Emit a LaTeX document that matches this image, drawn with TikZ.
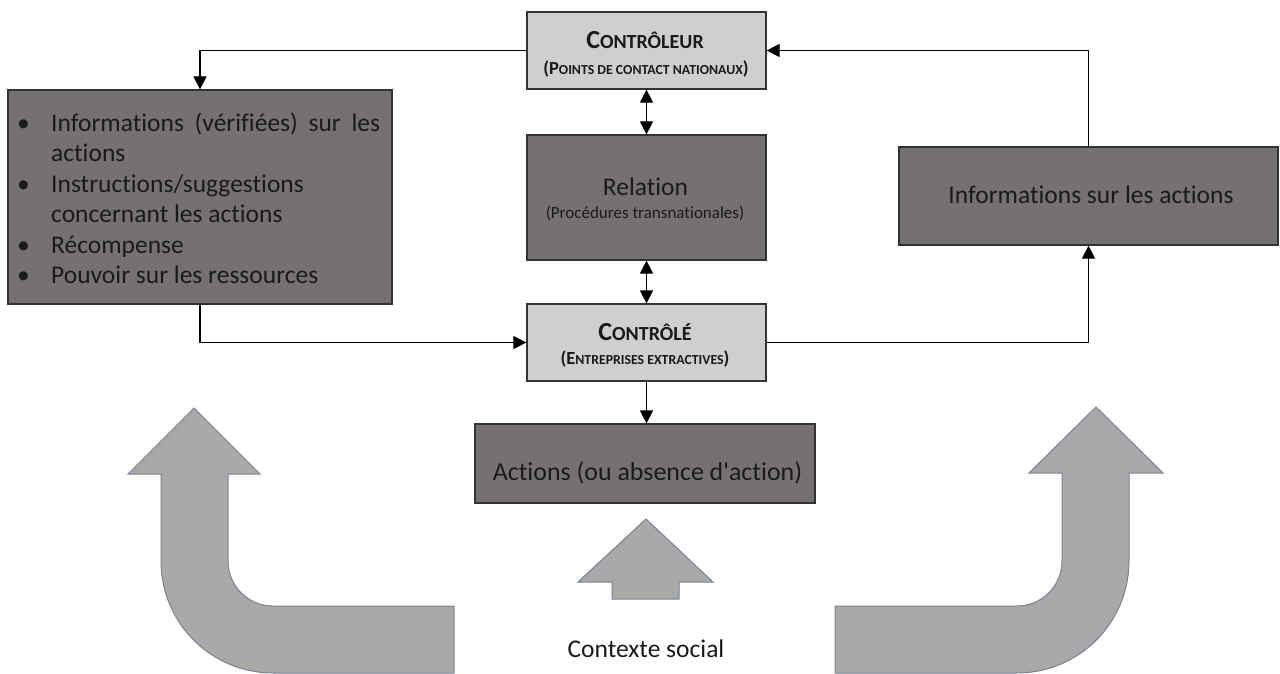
\documentclass[tikz,border=0pt]{standalone}
\usepackage{fontspec}
\setmainfont{Carlito}
\newfontfamily\calib{Carlito}[Ligatures=NoCommon]
\usetikzlibrary{arrows.meta}
\definecolor{lightbox}{HTML}{D0CECE}
\definecolor{darkbox}{HTML}{767171}
\definecolor{txt}{HTML}{1A1A1A}
\definecolor{bigfill}{HTML}{A9A9A9}
\definecolor{bigline}{HTML}{7A8290}
\newcommand\fsz[1]{\fontsize{#1}{#1}\selectfont}
\tikzset{
  lbox/.style={draw=black!80, line width=1.2pt, fill=lightbox, inner sep=0pt},
  dbox/.style={draw=black!80, line width=1.2pt, fill=darkbox, inner sep=0pt},
  lbl/.style={anchor=base, inner sep=0pt, text=txt},
  conn/.style={draw=black, line width=1.1pt, -{Triangle[width=13pt,length=13pt]}},
  dconn/.style={draw=black, line width=1.1pt, {Triangle[width=13pt,length=13pt]}-{Triangle[width=13pt,length=13pt]}},
  bigarrow/.style={fill=bigfill, draw=bigline, line width=1pt, line join=miter}
}
\begin{document}
\begin{tikzpicture}[x=1pt,y=-1pt,every node/.style={font=\calib}]
\useasboundingbox (0,0) rectangle (1280,674);
% boxes
\node[lbox, minimum width=239pt, minimum height=77pt] (ctrl) at (646.5,50.5) {};
\node[dbox, minimum width=239pt, minimum height=125pt] (rel) at (646.5,197.5) {};
\node[lbox, minimum width=239pt, minimum height=77pt] (ctrld) at (646.5,342.5) {};
\node[dbox, minimum width=340pt, minimum height=79pt] (act) at (645,463.5) {};
\node[dbox, minimum width=384pt, minimum height=214pt] (left) at (200,197) {};
\node[dbox, minimum width=379pt, minimum height=98pt] (right) at (1088.5,196) {};
% texts
\node[lbl] (t1) at (645,49) {\bfseries\fsz{26}C\fsz{20}ONTRÔLEUR};
\node[lbl] (t2) at (646,75) {\bfseries\fsz{18.5}(P\fsz{13.8}OINTS DE CONTACT NATIONAUX\fsz{18.5})};
\node[lbl] (t3) at (645.5,195) {\fsz{25.5}Relation};
\node[lbl] (t4) at (645,218) {\fsz{17}(Procédures transnationales)};
\node[lbl] (t5) at (645,340.5) {\bfseries\fsz{26}C\fsz{20}ONTRÔLÉ};
\node[lbl] (t6) at (645,364) {\bfseries\fsz{18.5}(E\fsz{13.8}NTREPRISES EXTRACTIVES\fsz{18.5})};
\node[lbl] (t7) at (647.5,480) {\fsz{25.9}Actions (ou absence d'action)};
\node[lbl] (t8) at (1091,204) {\fsz{25.5}Informations sur les actions};
\node[lbl] (t9) at (646,657) {\fsz{25.5}Contexte social};
\node[anchor=north west, inner sep=0pt, text=txt] (tl) at (17,109.6) {\fontsize{25.5}{30.5}\selectfont
\begin{tabular}{@{}p{34pt}@{}p{329pt}@{}}
•&\makebox[329pt][s]{Informations (vérifiées) sur les}\\
&actions\\
•&Instructions/suggestions\\
&concernant les actions\\
•&Récompense\\
•&Pouvoir sur les ressources
\end{tabular}};
% connectors
\draw[conn] (ctrl.west) -| (left.north);
\draw[conn] (left.south) |- (ctrld.west);
\draw[conn] (ctrld.east) -| (right.south);
\draw[conn] (right.north) |- (ctrl.east);
\draw[dconn] (ctrl.south) -- (rel.north);
\draw[dconn] (rel.south) -- (ctrld.north);
\draw[conn] (ctrld.south) -- (ctrld.south |- act.north);
% big arrows
\draw[bigarrow] (194,408) -- (260,474) -- (228,474) -- (228,561)
  .. controls (228,585.9) and (248.1,606) .. (273,606) -- (454,606) -- (454,673) -- (273,673)
  .. controls (211.1,673) and (161,622.9) .. (161,561) -- (161,474) -- (128,474) -- cycle;
\draw[bigarrow] (1096,407) -- (1163,473) -- (1129,473) -- (1129,561)
  .. controls (1129,622.9) and (1078.9,673) .. (1017,673) -- (835,673) -- (835,606) -- (1017,606)
  .. controls (1041.9,606) and (1062,585.9) .. (1062,561) -- (1062,473) -- (1029,473) -- cycle;
\draw[bigarrow] (646,519) -- (713,582) -- (679,582) -- (679,599) -- (612,599) -- (612,582) -- (578,582) -- cycle;
\end{tikzpicture}
\end{document}
